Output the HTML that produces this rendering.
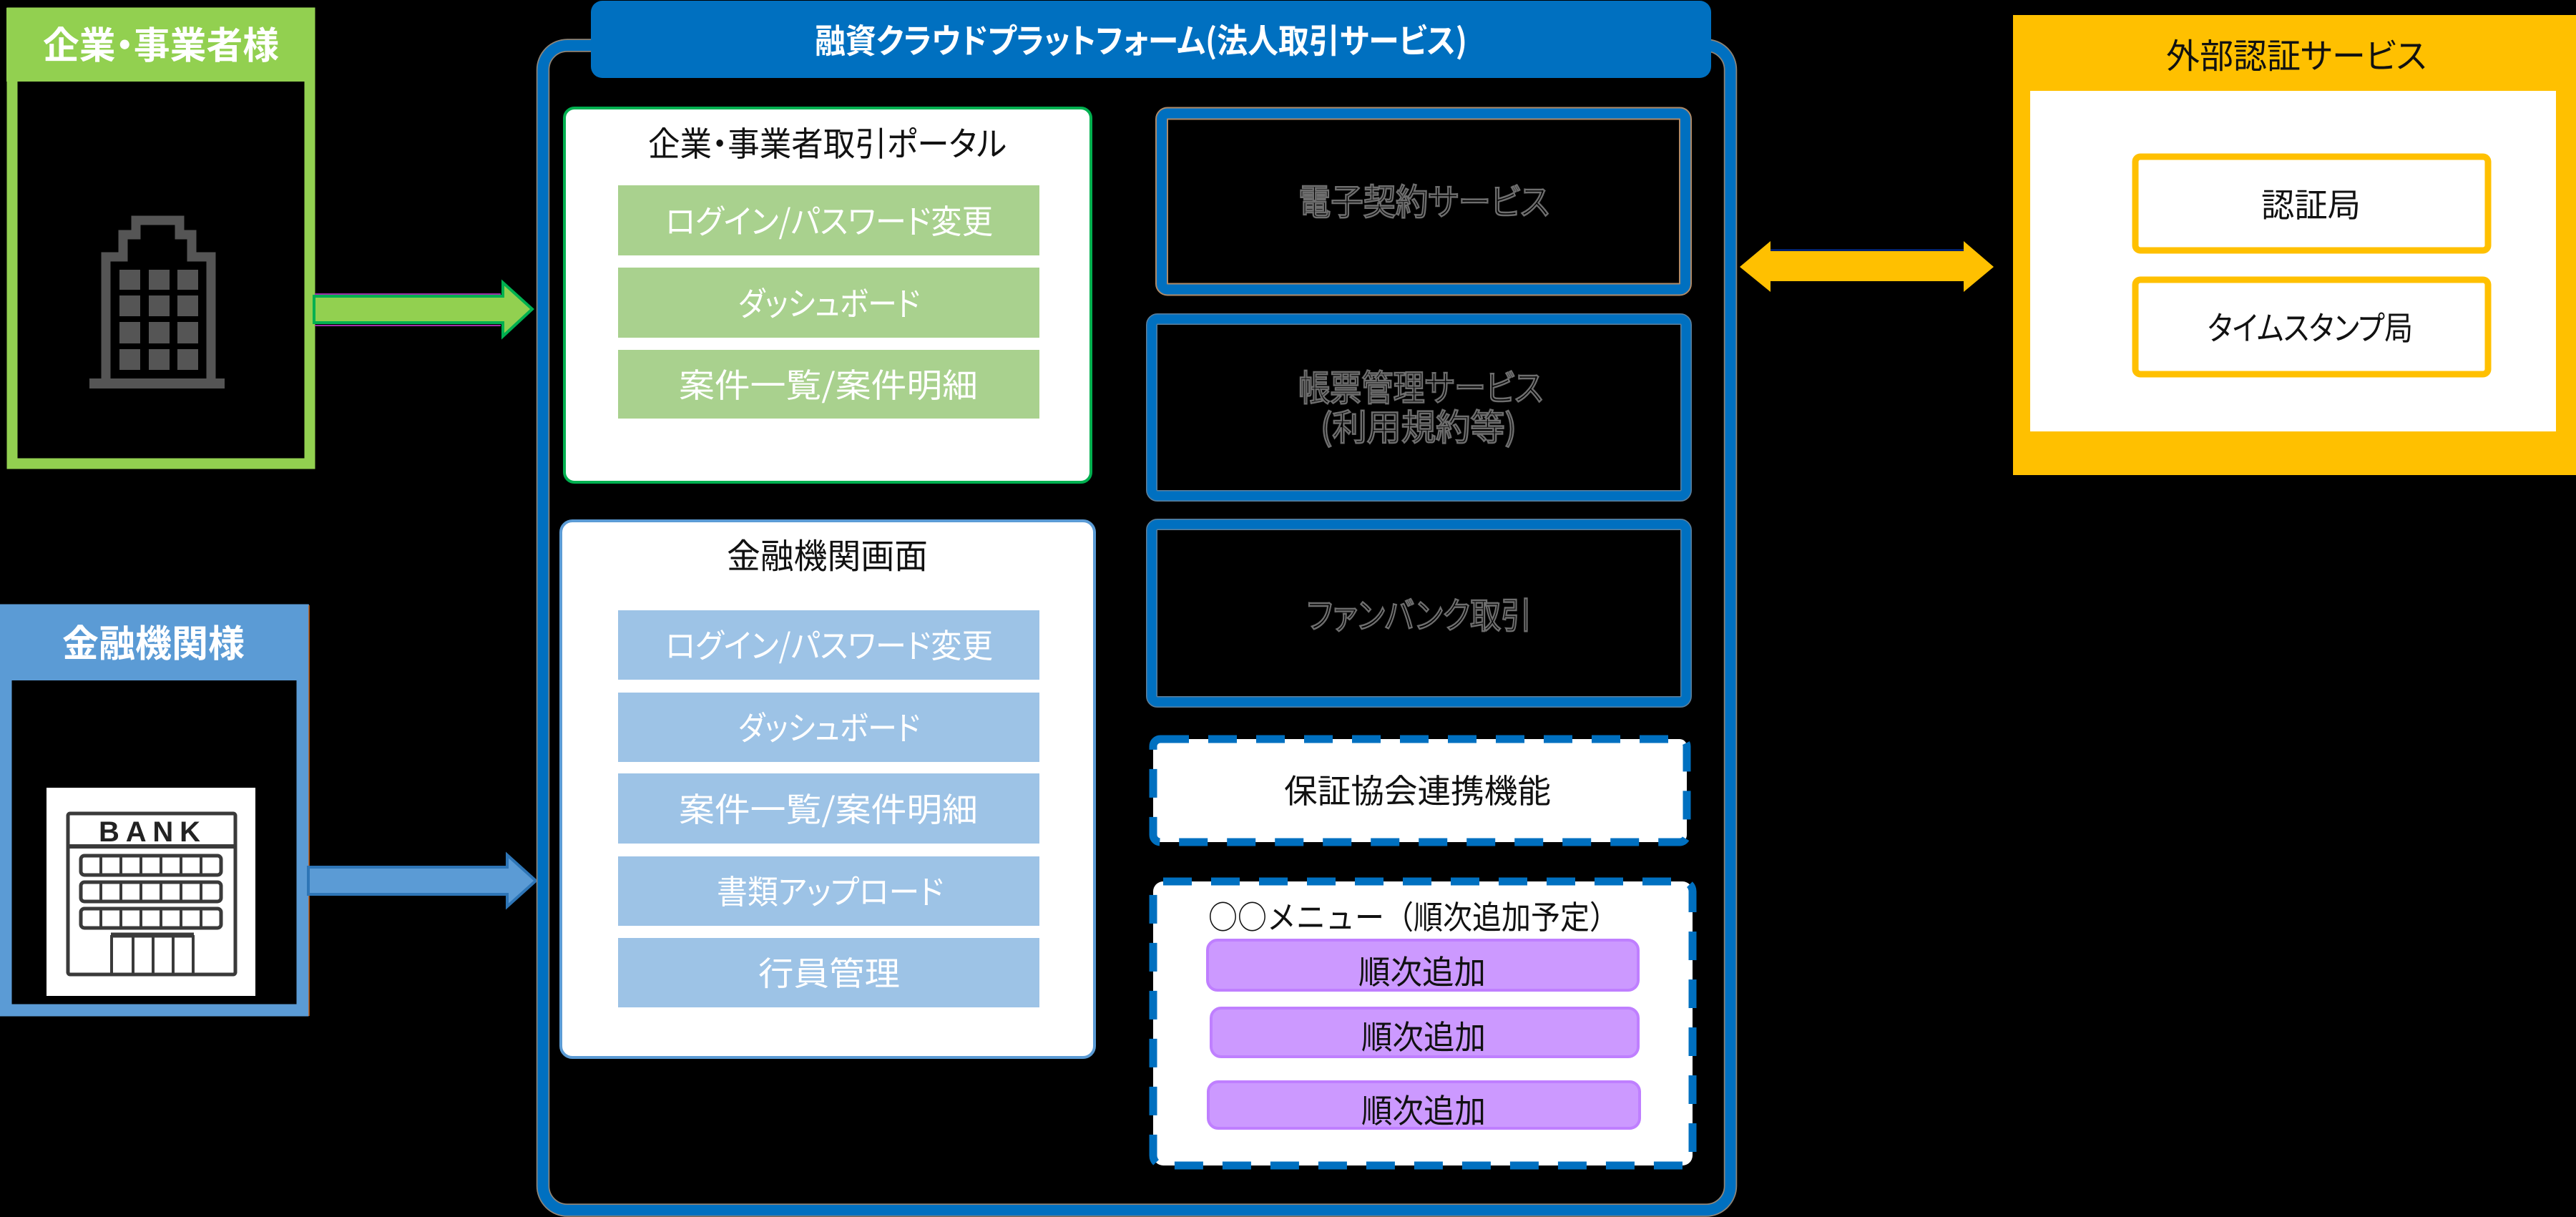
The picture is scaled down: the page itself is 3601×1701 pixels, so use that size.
<!DOCTYPE html>
<html lang="ja">
<head>
<meta charset="utf-8">
<title>融資クラウドプラットフォーム</title>
<style>
html,body{margin:0;padding:0;background:#000;width:3601px;height:1701px;overflow:hidden}
svg{display:block}
text{font-family:"Liberation Sans","Noto Sans CJK JP",sans-serif;font-feature-settings:"palt";}
.j{font-family:"Noto Sans CJK JP","Liberation Sans",sans-serif}
.b{font-weight:700}
.w{fill:#fff}
.k{fill:#111}
.g{fill:#000;stroke:#6e6e6e;stroke-width:2.5}
</style>
</head>
<body>
<svg xmlns="http://www.w3.org/2000/svg" width="3601" height="1701" viewBox="0 0 3601 1701">
<rect width="3601" height="1701" fill="#000"/>

<!-- Corporate user -->
<rect x="17" y="18" width="416" height="630" fill="none" stroke="#92d050" stroke-width="15"/>
<rect x="9" y="11" width="431" height="103" fill="#92d050"/>
<text class="j b w" x="60" y="82" font-size="52" textLength="330" lengthAdjust="spacingAndGlyphs">企業・事業者様</text>
<g fill="none" stroke="#555" stroke-width="13">
<path d="M148 530V359H172V328H190V308H251V328H268V359H295V530"/>
</g>
<rect x="125" y="529" width="189" height="14" fill="#555"/>
<g fill="#555">
<rect x="167" y="377" width="29" height="28"/><rect x="208" y="377" width="29" height="28"/><rect x="248" y="377" width="29" height="28"/>
<rect x="167" y="413" width="29" height="29"/><rect x="208" y="413" width="29" height="29"/><rect x="248" y="413" width="29" height="29"/>
<rect x="167" y="450" width="29" height="30"/><rect x="208" y="450" width="29" height="30"/><rect x="248" y="450" width="29" height="30"/>
<rect x="167" y="488" width="29" height="29"/><rect x="208" y="488" width="29" height="29"/><rect x="248" y="488" width="29" height="29"/>
</g>
<path d="M440 411H700M440 455H700" stroke="#a030a8" stroke-width="2" fill="none"/>
<path d="M439 414H703V395L744 432L703 470V451H439Z" fill="#92d050" stroke="#00b050" stroke-width="4"/>

<!-- Bank user -->
<rect x="8" y="853" width="415" height="559" fill="none" stroke="#5b9bd5" stroke-width="17"/>
<rect x="0" y="845" width="432" height="106" fill="#5b9bd5"/>
<path d="M432 846V1420" stroke="#c55a11" stroke-width="1.5"/>
<text class="j b w" x="87" y="918" font-size="52" textLength="255" lengthAdjust="spacingAndGlyphs">金融機関様</text>
<rect x="65" y="1101" width="292" height="291" fill="#fff"/>
<g fill="none" stroke="#3a3a3a" stroke-width="5">
<rect x="95" y="1137" width="234" height="225" rx="3"/>
<path d="M95 1183H329" stroke-width="6"/>
<rect x="113" y="1196" width="196" height="27" rx="5"/>
<rect x="113" y="1233" width="196" height="27" rx="5"/>
<rect x="113" y="1270" width="196" height="27" rx="5"/>
<path d="M141 1196V1223M169 1196V1223M197 1196V1223M225 1196V1223M253 1196V1223M281 1196V1223" stroke-width="4"/>
<path d="M141 1233V1260M169 1233V1260M197 1233V1260M225 1233V1260M253 1233V1260M281 1233V1260" stroke-width="4"/>
<path d="M141 1270V1297M169 1270V1297M197 1270V1297M225 1270V1297M253 1270V1297M281 1270V1297" stroke-width="4"/>
<path d="M156 1307V1362M186 1307V1362M214 1307V1362M242 1307V1362M270 1307V1362" stroke-width="4"/>
<path d="M155 1307H271" stroke-width="7"/>
</g>
<text x="138" y="1176" font-size="40" font-weight="700" fill="#222" textLength="142" lengthAdjust="spacing">BANK</text>
<path d="M431 1212H709V1195L749 1231L709 1267V1250H431Z" fill="#5b9bd5" stroke="#2e75b6" stroke-width="4"/>

<!-- Main platform -->
<rect x="759" y="63.500" width="1660" height="1628" rx="34" fill="none" stroke="#8f8578" stroke-width="18.500"/>
<rect x="759" y="63.500" width="1660" height="1628" rx="34" fill="none" stroke="#0070c0" stroke-width="15"/>
<rect x="826" y="1" width="1566" height="108" rx="16" fill="#0070c0"/>
<text class="j b w" x="1139" y="74" font-size="47" textLength="912" lengthAdjust="spacingAndGlyphs">融資クラウドプラットフォーム(法人取引サービス)</text>

<!-- Corporate portal -->
<rect x="789" y="151" width="736" height="523" rx="14" fill="#fff" stroke="#00b050" stroke-width="4"/>
<text class="j k" x="906" y="218" font-size="47" textLength="501" lengthAdjust="spacingAndGlyphs">企業・事業者取引ポータル</text>
<g fill="#a9d18e">
<rect x="864" y="259" width="589" height="98"/>
<rect x="864" y="374" width="589" height="98"/>
<rect x="864" y="489" width="589" height="96"/>
</g>
<text class="j w" x="930" y="326" font-size="46" textLength="458" lengthAdjust="spacingAndGlyphs">ログイン/パスワード変更</text>
<text class="j w" x="1032" y="441" font-size="46" textLength="254" lengthAdjust="spacingAndGlyphs">ダッシュボード</text>
<text class="j w" x="949" y="555" font-size="46" textLength="418" lengthAdjust="spacingAndGlyphs">案件一覧/案件明細</text>

<!-- Financial institution screen -->
<rect x="784" y="728" width="746" height="750" rx="16" fill="#fff" stroke="#5b9bd5" stroke-width="4"/>
<text class="j k" x="1016" y="794" font-size="48" textLength="281" lengthAdjust="spacingAndGlyphs">金融機関画面</text>
<g fill="#9dc3e6">
<rect x="864" y="853" width="589" height="97"/>
<rect x="864" y="968" width="589" height="97"/>
<rect x="864" y="1081" width="589" height="98"/>
<rect x="864" y="1197" width="589" height="97"/>
<rect x="864" y="1311" width="589" height="97"/>
</g>
<text class="j w" x="930" y="919" font-size="46" textLength="458" lengthAdjust="spacingAndGlyphs">ログイン/パスワード変更</text>
<text class="j w" x="1032" y="1034" font-size="46" textLength="254" lengthAdjust="spacingAndGlyphs">ダッシュボード</text>
<text class="j w" x="949" y="1148" font-size="46" textLength="418" lengthAdjust="spacingAndGlyphs">案件一覧/案件明細</text>
<text class="j w" x="1002" y="1263" font-size="46" textLength="317" lengthAdjust="spacingAndGlyphs">書類アップロード</text>
<text class="j w" x="1060" y="1377" font-size="46" textLength="198" lengthAdjust="spacingAndGlyphs">行員管理</text>

<!-- Right service boxes -->
<rect x="1624" y="158.500" width="732" height="246" rx="8" fill="#000" stroke="#b08a68" stroke-width="18"/>
<rect x="1624" y="158.500" width="732" height="246" rx="8" fill="none" stroke="#0070c0" stroke-width="14"/>
<text class="j g" x="1815" y="300" font-size="50" textLength="351" lengthAdjust="spacingAndGlyphs">電子契約サービス</text>
<rect x="1610" y="446" width="747" height="247" rx="8" fill="#000" stroke="#5f7f9a" stroke-width="16"/>
<rect x="1610" y="446" width="747" height="247" rx="8" fill="none" stroke="#0070c0" stroke-width="13"/>
<text class="j g" x="1815" y="560" font-size="50" textLength="342" lengthAdjust="spacingAndGlyphs">帳票管理サービス</text>
<text class="j g" x="1846" y="615" font-size="50" textLength="274" lengthAdjust="spacingAndGlyphs">(利用規約等)</text>
<rect x="1610" y="733" width="747" height="248" rx="8" fill="#000" stroke="#5f7f9a" stroke-width="16"/>
<rect x="1610" y="733" width="747" height="248" rx="8" fill="none" stroke="#0070c0" stroke-width="13"/>
<text class="j g" x="1827" y="878" font-size="50" textLength="314" lengthAdjust="spacingAndGlyphs">ファンバンク取引</text>

<rect x="1612" y="1033" width="746" height="144" rx="10" fill="#fff" stroke="#0070c0" stroke-width="11" stroke-dasharray="40 27"/>
<text class="j k" x="1795" y="1122" font-size="46" textLength="373" lengthAdjust="spacingAndGlyphs">保証協会連携機能</text>

<rect x="1612" y="1232" width="754" height="397" rx="14" fill="#fff" stroke="#0070c0" stroke-width="11" stroke-dasharray="40 27"/>
<text class="j k" x="1689" y="1298" font-size="45" textLength="574" lengthAdjust="spacingAndGlyphs" style="font-feature-settings:normal">○○メニュー（順次追加予定）</text>
<g fill="#cc99ff" stroke="#bf7fff" stroke-width="4">
<rect x="1688" y="1314" width="602" height="70" rx="14"/>
<rect x="1693" y="1409" width="597" height="68" rx="14"/>
<rect x="1689" y="1512" width="603" height="65" rx="14"/>
</g>
<text class="j k" x="1899" y="1375" font-size="46" textLength="178" lengthAdjust="spacingAndGlyphs">順次追加</text>
<text class="j k" x="1903" y="1466" font-size="46" textLength="174" lengthAdjust="spacingAndGlyphs">順次追加</text>
<text class="j k" x="1903" y="1569" font-size="46" textLength="174" lengthAdjust="spacingAndGlyphs">順次追加</text>

<!-- Double arrow -->
<path d="M2475 349.500H2745" stroke="#0030a0" stroke-width="2" fill="none"/>
<path d="M2432 373L2475 337V351H2745V337L2787 373L2745 408V393H2475V408Z" fill="#ffc000"/>

<!-- External auth -->
<rect x="2814" y="21" width="787" height="643" fill="#ffc000"/>
<rect x="2838" y="127" width="735" height="476" fill="#fff"/>
<text class="j k" x="3028" y="95" font-size="48" textLength="364" lengthAdjust="spacingAndGlyphs">外部認証サービス</text>
<rect x="2985" y="219" width="493" height="131" rx="7" fill="#fff" stroke="#ffc000" stroke-width="9"/>
<rect x="2985" y="391" width="493" height="132" rx="7" fill="#fff" stroke="#ffc000" stroke-width="9"/>
<text class="j k" x="3161" y="303" font-size="46" textLength="139" lengthAdjust="spacingAndGlyphs">認証局</text>
<text class="j k" x="3086" y="475" font-size="46" textLength="287" lengthAdjust="spacingAndGlyphs">タイムスタンプ局</text>
</svg>
</body>
</html>
